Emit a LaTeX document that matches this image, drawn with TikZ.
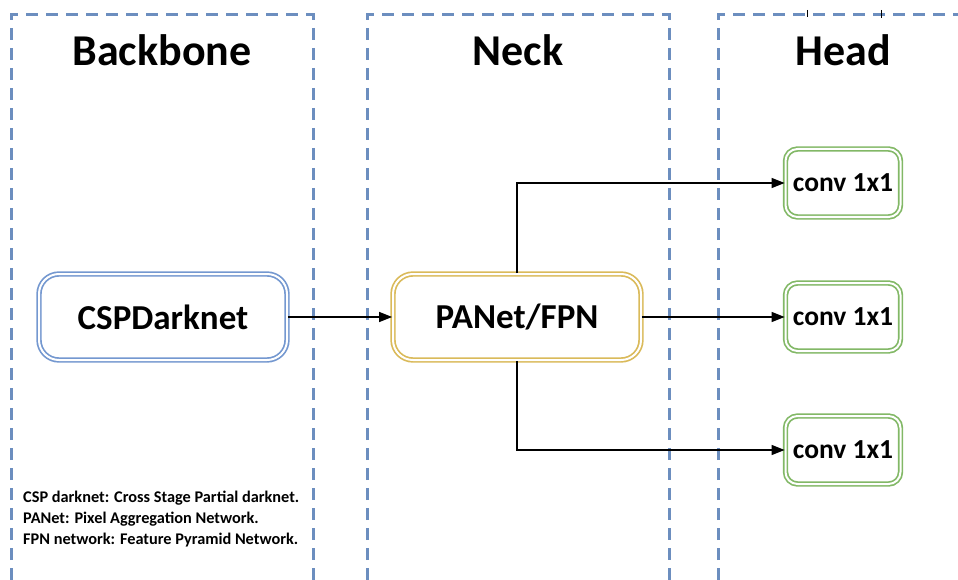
\documentclass[tikz,border=0pt]{standalone}
\usepackage{fontspec}
\setmainfont{Carlito}
\usetikzlibrary{arrows.meta}
\definecolor{dashblue}{RGB}{108,142,191}
\definecolor{boxblue}{RGB}{116,152,208}
\definecolor{boxyellow}{RGB}{218,186,90}
\definecolor{boxgreen}{RGB}{130,184,102}
\tikzset{
  x=1pt, y=-1pt,
  region/.style={draw=dashblue, line width=3pt, dash pattern=on 12pt off 8pt},
  title/.style={font=\fontsize{44}{48}\selectfont\bfseries, anchor=center},
  bigbox/.style={draw=#1, double=white, double distance=2pt, line width=1.7pt, rounded corners=20pt, fill=white, font=\fontsize{35}{40}\selectfont\bfseries, minimum width=248pt, minimum height=86pt, inner sep=0pt},
  smallbox/.style={draw=boxgreen, double=white, double distance=2pt, line width=1.7pt, rounded corners=12pt, fill=white, font=\fontsize{27.5}{30}\selectfont\bfseries, minimum width=115pt, minimum height=68pt, inner sep=0pt},
  conn/.style={draw=black, line width=1.3pt, -{Triangle[length=13pt,width=10pt]}},
  note/.style={font=\fontsize{16.3}{21}\selectfont\bfseries, align=left, anchor=north west, inner sep=0pt}
}
\begin{document}
\begin{tikzpicture}
\useasboundingbox (0,0) rectangle (958,580);
\clip (0,0) rectangle (958,580);
% regions
\draw[region] (11,600) -- (11,15) -- (313,15) -- (313,600);
\draw[region] (367,600) -- (367,15) -- (669,15) -- (669,600);
\draw[region] (718,600) -- (718,15) -- (980,15);
% small ticks at top
\draw[line width=0.8pt] (807,10) -- (807,17);
\draw[line width=0.8pt] (881,10) -- (881,18);
% titles
\node[title] (tb) at (162,50) {Backbone};
\node[title] (tn) at (518,50) {Neck};
\node[title] (th) at (843,50) {Head};
% boxes
\node[bigbox=boxblue] (csp) at (163,317) {CSPDarknet};
\node[bigbox=boxyellow] (pan) at (517,317) {PANet/FPN};
\node[smallbox] (c1) at (843,183) {conv 1x1};
\node[smallbox] (c2) at (843,317) {conv 1x1};
\node[smallbox] (c3) at (843,450) {conv 1x1};
% connectors
\draw[conn] (csp.east) -- (pan.west);
\draw[conn] (pan.east) -- (c2.west);
\draw[conn] (pan.north) |- (c1.west);
\draw[conn] (pan.south) |- (c3.west);
% note
\node[note] (nt) at (23,491) {CSP darknet: Cross Stage Partial darknet.\\PANet: Pixel Aggregation Network.\\FPN network: Feature Pyramid Network.};
\end{tikzpicture}
\end{document}
